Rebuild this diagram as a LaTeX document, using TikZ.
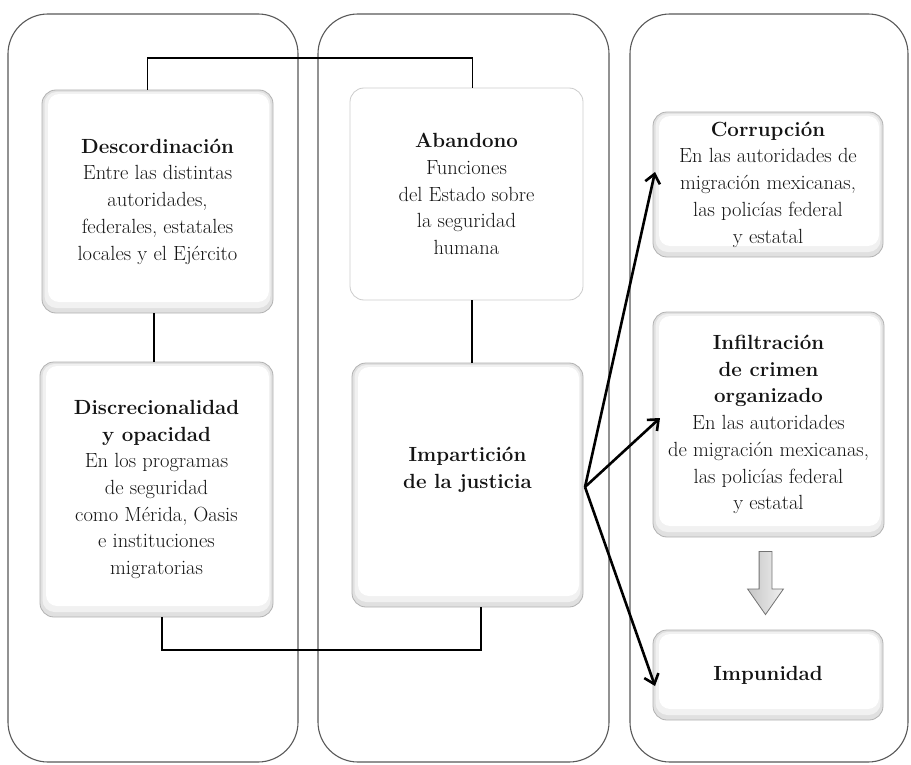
\documentclass[tikz,border=0pt]{standalone}
\usepackage{fontspec}
\usetikzlibrary{arrows.meta,shapes.arrows}
\begin{document}
\begin{tikzpicture}[x=1pt,y=-1pt,
  column/.style={draw=black!65, line width=1.1pt, rounded corners=40pt},
  softbox/.style={draw=gray!60, line width=0.8pt, rounded corners=14pt, fill=gray!24,
    inner sep=0pt, outer sep=0pt, align=center, text=black!92,
    font=\fontsize{20.5}{26.7}\selectfont,
    path picture={
      \fill[gray!11, rounded corners=12pt] ([shift={(2.5pt,-2pt)}]path picture bounding box.north west) rectangle ([shift={(-2.5pt,5pt)}]path picture bounding box.south east);
      \fill[white, rounded corners=11pt] ([shift={(6pt,-4pt)}]path picture bounding box.north west) rectangle ([shift={(-4pt,11pt)}]path picture bounding box.south east);
    }},
  plainbox/.style={draw=gray!40, line width=0.8pt, rounded corners=14pt, fill=white,
    inner sep=0pt, outer sep=0pt, align=center, text=black!92,
    font=\fontsize{20.5}{26.7}\selectfont},
  link/.style={draw=black, line width=1.1pt},
  bigarrow/.style={draw=black, line width=2.6pt, -{Straight Barb[length=9pt,width=15pt]}},
  blockarrow/.style={single arrow, draw=black!55, line width=0.8pt, inner sep=6pt,
    single arrow head extend=11.5pt, single arrow tip angle=70, minimum height=63pt,
    left color=gray!45, right color=gray!12, rotate=-90}
]
\useasboundingbox (0,0) rectangle (911,765);
\fill[white] (0,0) rectangle (911,765);

% columns
\draw[column] (8,14) rectangle (298,762);
\draw[column] (318,14) rectangle (609,762);
\draw[column] (630,14) rectangle (908,762);

% boxes
\node[softbox, minimum width=231pt, minimum height=223pt] (desc) at (157.5,201.5)
  {\textbf{Descordinación}\\Entre las distintas\\autoridades,\\federales, estatales\\locales y el Ejército};
\node[softbox, minimum width=233pt, minimum height=255pt] (disc) at (156.5,489.5)
  {\textbf{Discrecionalidad}\\\textbf{y opacidad}\\En los programas\\de seguridad\\como Mérida, Oasis\\e instituciones\\migratorias};
\node[plainbox, minimum width=233pt, minimum height=212pt] (aban) at (466.5,194)
  {\textbf{Abandono}\\Funciones\\del Estado sobre\\la seguridad\\humana};
\node[softbox, minimum width=231pt, minimum height=244pt] (imp) at (467.5,485)
  {\textbf{Impartición}\\\textbf{de la justicia}\\[8pt]};
\node[softbox, minimum width=230pt, minimum height=145pt] (corr) at (768,184.5)
  {\textbf{Corrupción}\\En las autoridades de\\migración mexicanas,\\las policías federal\\y estatal};
\node[softbox, minimum width=231pt, minimum height=225pt] (infil) at (768.5,424.5)
  {\textbf{Infiltración}\\\textbf{de crimen}\\\textbf{organizado}\\En las autoridades\\de migración mexicanas,\\las policías federal\\y estatal};
\node[softbox, minimum width=230pt, minimum height=90pt] (impu) at (768,675)
  {\textbf{Impunidad}};

% block arrow
\node[blockarrow] (down) at (765.5,578.5) {};

% thin connectors
\draw[link] ([xshift=-10pt]desc.north) -- ++(0,-32) -| ([xshift=6pt]aban.north);
\draw[link] ([xshift=-3.5pt]desc.south) -- ([xshift=-3.5pt]desc.south |- disc.north);
\draw[link] ([xshift=5.5pt]aban.south) -- ([xshift=5.5pt]aban.south |- imp.north);
\draw[link] ([xshift=5.5pt]disc.south) -- ++(0,33) -| ([xshift=13.5pt]imp.south);

% thick arrows
\draw[bigarrow] ([shift={(2pt,-2pt)}]imp.east) -- ([shift={(2pt,12.5pt)}]corr.west);
\draw[bigarrow] ([shift={(2pt,-2pt)}]imp.east) -- ([shift={(7pt,6.5pt)}]infil.west);
\draw[bigarrow] ([shift={(2pt,-2pt)}]imp.east) -- ([shift={(2pt,-11pt)}]impu.west);
\end{tikzpicture}
\end{document}
